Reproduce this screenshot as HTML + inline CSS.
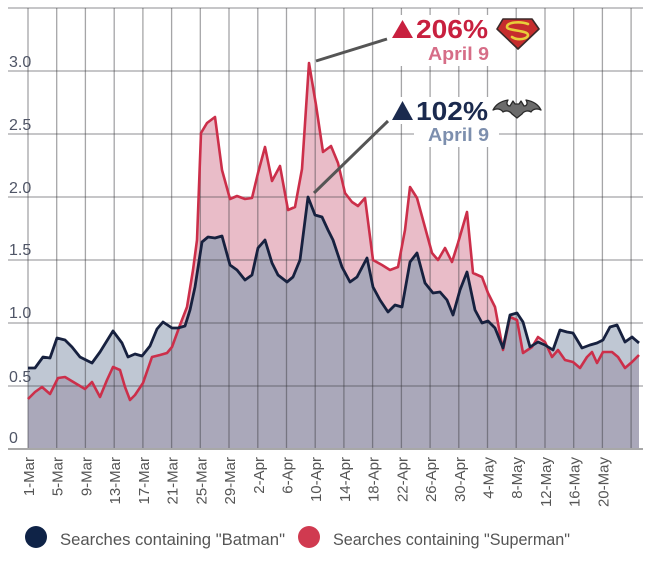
<!DOCTYPE html>
<html><head><meta charset="utf-8"><style>
html,body{margin:0;padding:0;background:#fff;}
svg{display:block;}
text{font-family:"Liberation Sans",sans-serif;}
</style></head><body>
<svg width="649" height="562" viewBox="0 0 649 562" xmlns="http://www.w3.org/2000/svg">
<rect width="649" height="562" fill="#fff"/>
<defs>
<clipPath id="sc"><polygon points="28,449 28,399 35,392 42,387 50,394 58,378 65,377 75,383 85,389 92,382 100,397 107,380 113,367 120,370 125,387 130,400 135,395 143,383 152,357 160,355 167,353 172,347 180,325 187,307 193,270 197,240 201,133 207,123 215,117 222,170 230,199 237,196 245,199 252,198 258,173 265,147 272,181 280,166 288,210 295,207 302,169 309,63 316,105 323,152 331,146 338,163 345,193 352,202 358,206 365,198 373,260 382,265 390,270 398,267 405,230 410,187 417,198 423,220 432,253 438,260 445,248 452,262 458,243 467,212 473,273 482,277 488,293 495,307 503,350 510,317 517,320 523,353 532,347 538,337 545,342 552,357 558,350 565,360 573,362 580,368 587,357 592,352 597,363 603,352 612,352 618,357 625,368 632,362 639,355 639,449"/></clipPath>
</defs>
<!-- superman fill -->
<polygon fill="#e9bcc8" points="28,449 28,399 35,392 42,387 50,394 58,378 65,377 75,383 85,389 92,382 100,397 107,380 113,367 120,370 125,387 130,400 135,395 143,383 152,357 160,355 167,353 172,347 180,325 187,307 193,270 197,240 201,133 207,123 215,117 222,170 230,199 237,196 245,199 252,198 258,173 265,147 272,181 280,166 288,210 295,207 302,169 309,63 316,105 323,152 331,146 338,163 345,193 352,202 358,206 365,198 373,260 382,265 390,270 398,267 405,230 410,187 417,198 423,220 432,253 438,260 445,248 452,262 458,243 467,212 473,273 482,277 488,293 495,307 503,350 510,317 517,320 523,353 532,347 538,337 545,342 552,357 558,350 565,360 573,362 580,368 587,357 592,352 597,363 603,352 612,352 618,357 625,368 632,362 639,355 639,449"/>
<!-- batman fill -->
<polygon fill="#bfc7d3" points="28,449 28,368 35,368 43,357 50,358 57,338 65,340 72,347 80,357 92,363 100,352 113,331 122,343 128,357 135,354 142,356 150,346 157,329 163,322 172,328 178,328 185,326 190,310 195,287 202,242 208,237 215,238 222,236 230,265 237,270 245,280 252,275 258,248 265,240 272,263 278,275 287,282 293,277 300,260 308,197 315,215 322,217 328,230 333,240 342,267 350,282 357,277 367,258 373,287 380,300 388,312 395,305 402,307 410,262 417,253 425,283 433,293 440,292 447,300 453,315 460,290 467,272 475,310 482,323 488,321 495,328 503,348 510,315 517,313 523,322 530,347 538,342 545,345 553,350 560,330 567,332 573,333 582,348 590,345 597,343 603,340 610,327 617,325 625,342 632,337 639,343 639,449"/>
<!-- overlap -->
<polygon fill="#aaa8ba" clip-path="url(#sc)" points="28,449 28,368 35,368 43,357 50,358 57,338 65,340 72,347 80,357 92,363 100,352 113,331 122,343 128,357 135,354 142,356 150,346 157,329 163,322 172,328 178,328 185,326 190,310 195,287 202,242 208,237 215,238 222,236 230,265 237,270 245,280 252,275 258,248 265,240 272,263 278,275 287,282 293,277 300,260 308,197 315,215 322,217 328,230 333,240 342,267 350,282 357,277 367,258 373,287 380,300 388,312 395,305 402,307 410,262 417,253 425,283 433,293 440,292 447,300 453,315 460,290 467,272 475,310 482,323 488,321 495,328 503,348 510,315 517,313 523,322 530,347 538,342 545,345 553,350 560,330 567,332 573,333 582,348 590,345 597,343 603,340 610,327 617,325 625,342 632,337 639,343 639,449"/>
<!-- grid -->
<g stroke="rgba(55,55,60,0.45)" stroke-width="1.3" fill="none">
<line x1="8" y1="8" x2="643" y2="8"/>
<line x1="8" y1="71" x2="643" y2="71"/>
<line x1="8" y1="134" x2="643" y2="134"/>
<line x1="8" y1="197" x2="643" y2="197"/>
<line x1="8" y1="260" x2="643" y2="260"/>
<line x1="8" y1="323" x2="643" y2="323"/>
<line x1="8" y1="386" x2="643" y2="386"/>
<line x1="28" y1="8" x2="28" y2="449"/>
<line x1="56.7" y1="8" x2="56.7" y2="449"/>
<line x1="85.4" y1="8" x2="85.4" y2="449"/>
<line x1="114.2" y1="8" x2="114.2" y2="449"/>
<line x1="142.9" y1="8" x2="142.9" y2="449"/>
<line x1="171.6" y1="8" x2="171.6" y2="449"/>
<line x1="200.3" y1="8" x2="200.3" y2="449"/>
<line x1="229" y1="8" x2="229" y2="449"/>
<line x1="257.8" y1="8" x2="257.8" y2="449"/>
<line x1="286.5" y1="8" x2="286.5" y2="449"/>
<line x1="315.2" y1="8" x2="315.2" y2="449"/>
<line x1="343.9" y1="8" x2="343.9" y2="449"/>
<line x1="372.6" y1="8" x2="372.6" y2="449"/>
<line x1="401.4" y1="8" x2="401.4" y2="449"/>
<line x1="430.1" y1="8" x2="430.1" y2="449"/>
<line x1="458.8" y1="8" x2="458.8" y2="449"/>
<line x1="487.5" y1="8" x2="487.5" y2="449"/>
<line x1="516.2" y1="8" x2="516.2" y2="449"/>
<line x1="545" y1="8" x2="545" y2="449"/>
<line x1="573.7" y1="8" x2="573.7" y2="449"/>
<line x1="602.4" y1="8" x2="602.4" y2="449"/>
<line x1="631.1" y1="8" x2="631.1" y2="449"/>
</g>
<line x1="8" y1="449" x2="643" y2="449" stroke="#a8a8a8" stroke-width="2"/>
<!-- lines -->
<polyline fill="none" stroke="#cc2f4a" stroke-width="2.6" stroke-linejoin="round" points="28,399 35,392 42,387 50,394 58,378 65,377 75,383 85,389 92,382 100,397 107,380 113,367 120,370 125,387 130,400 135,395 143,383 152,357 160,355 167,353 172,347 180,325 187,307 193,270 197,240 201,133 207,123 215,117 222,170 230,199 237,196 245,199 252,198 258,173 265,147 272,181 280,166 288,210 295,207 302,169 309,63 316,105 323,152 331,146 338,163 345,193 352,202 358,206 365,198 373,260 382,265 390,270 398,267 405,230 410,187 417,198 423,220 432,253 438,260 445,248 452,262 458,243 467,212 473,273 482,277 488,293 495,307 503,350 510,317 517,320 523,353 532,347 538,337 545,342 552,357 558,350 565,360 573,362 580,368 587,357 592,352 597,363 603,352 612,352 618,357 625,368 632,362 639,355"/>
<polyline fill="none" stroke="#17213f" stroke-width="2.8" stroke-linejoin="round" points="28,368 35,368 43,357 50,358 57,338 65,340 72,347 80,357 92,363 100,352 113,331 122,343 128,357 135,354 142,356 150,346 157,329 163,322 172,328 178,328 185,326 190,310 195,287 202,242 208,237 215,238 222,236 230,265 237,270 245,280 252,275 258,248 265,240 272,263 278,275 287,282 293,277 300,260 308,197 315,215 322,217 328,230 333,240 342,267 350,282 357,277 367,258 373,287 380,300 388,312 395,305 402,307 410,262 417,253 425,283 433,293 440,292 447,300 453,315 460,290 467,272 475,310 482,323 488,321 495,328 503,348 510,315 517,313 523,322 530,347 538,342 545,345 553,350 560,330 567,332 573,333 582,348 590,345 597,343 603,340 610,327 617,325 625,342 632,337 639,343"/>
<!-- y labels -->
<g fill="#4f5566" font-size="16">
<text x="9" y="67">3.0</text>
<text x="9" y="130">2.5</text>
<text x="9" y="193">2.0</text>
<text x="9" y="255">1.5</text>
<text x="9" y="318">1.0</text>
<text x="9" y="382">0.5</text>
<text x="9" y="443">0</text>
</g>
<!-- x labels -->
<g fill="#555" font-size="15" text-anchor="end">
<text transform="translate(34,457) rotate(-90)">1-Mar</text>
<text transform="translate(62.7,457) rotate(-90)">5-Mar</text>
<text transform="translate(91.4,457) rotate(-90)">9-Mar</text>
<text transform="translate(120.2,457) rotate(-90)">13-Mar</text>
<text transform="translate(148.9,457) rotate(-90)">17-Mar</text>
<text transform="translate(177.6,457) rotate(-90)">21-Mar</text>
<text transform="translate(206.3,457) rotate(-90)">25-Mar</text>
<text transform="translate(235,457) rotate(-90)">29-Mar</text>
<text transform="translate(263.8,457) rotate(-90)">2-Apr</text>
<text transform="translate(292.5,457) rotate(-90)">6-Apr</text>
<text transform="translate(321.2,457) rotate(-90)">10-Apr</text>
<text transform="translate(349.9,457) rotate(-90)">14-Apr</text>
<text transform="translate(378.6,457) rotate(-90)">18-Apr</text>
<text transform="translate(407.4,457) rotate(-90)">22-Apr</text>
<text transform="translate(436.1,457) rotate(-90)">26-Apr</text>
<text transform="translate(464.8,457) rotate(-90)">30-Apr</text>
<text transform="translate(493.5,457) rotate(-90)">4-May</text>
<text transform="translate(522.2,457) rotate(-90)">8-May</text>
<text transform="translate(551,457) rotate(-90)">12-May</text>
<text transform="translate(579.7,457) rotate(-90)">16-May</text>
<text transform="translate(608.4,457) rotate(-90)">20-May</text>
</g>
<!-- annotations -->
<rect x="389" y="15" width="104" height="51" fill="#fff"/>
<rect x="389" y="97" width="102" height="27" fill="#fff"/>
<rect x="414" y="124" width="85" height="23" fill="#fff"/>
<line x1="316" y1="61" x2="387" y2="39" stroke="#555" stroke-width="3"/>
<line x1="314" y1="193" x2="388" y2="121" stroke="#555" stroke-width="3"/>
<polygon points="392,38 402.5,20 413,38" fill="#c8203f"/>
<text x="416" y="38" font-size="26" font-weight="bold" fill="#c8203f" textLength="72" lengthAdjust="spacingAndGlyphs">206%</text>
<text x="428" y="60" font-size="18.5" font-weight="bold" fill="#d66d87" textLength="61" lengthAdjust="spacingAndGlyphs">April 9</text>
<polygon points="392,120 402.5,101 413,120" fill="#1b2a4e"/>
<text x="416" y="120" font-size="26" font-weight="bold" fill="#1b2a4e" textLength="72" lengthAdjust="spacingAndGlyphs">102%</text>
<text x="428" y="141" font-size="18.5" font-weight="bold" fill="#7d8fae" textLength="61" lengthAdjust="spacingAndGlyphs">April 9</text>
<!-- superman logo -->
<polygon points="503,19 532,19 539,29 518,49 497,29" fill="#c62d2d" stroke="#3a2a2a" stroke-width="1.6" stroke-linejoin="round"/>
<path d="M528,24 C520,21 507,22 507,27 C507,31 528,30 528,35 C528,39 518,41 512,37" fill="none" stroke="#e8cf3a" stroke-width="2.6" stroke-linecap="round"/>
<!-- bat logo -->
<path d="M493,110 C496,104 502,101 508,100 C506,103 507,106 510,106 L513,101 L515,104 L519,104 L521,101 L524,106 C527,106 528,103 526,100 C532,101 538,104 541,110 C537,108 533,109 531,112 C528,110 524,111 522,114 L517,118 L512,114 C510,111 506,110 503,112 C501,109 497,108 493,110 Z" fill="#6b6b6b" stroke="#2a2a2a" stroke-width="1.3" stroke-linejoin="round"/>
<!-- legend -->
<circle cx="36" cy="537" r="11" fill="#0f2347"/>
<text x="60" y="545" font-size="16.3" fill="#555" textLength="225" lengthAdjust="spacingAndGlyphs">Searches containing "Batman"</text>
<circle cx="309" cy="537" r="11" fill="#d03a50"/>
<text x="333" y="545" font-size="16.3" fill="#555" textLength="237" lengthAdjust="spacingAndGlyphs">Searches containing "Superman"</text>
</svg>
</body></html>
